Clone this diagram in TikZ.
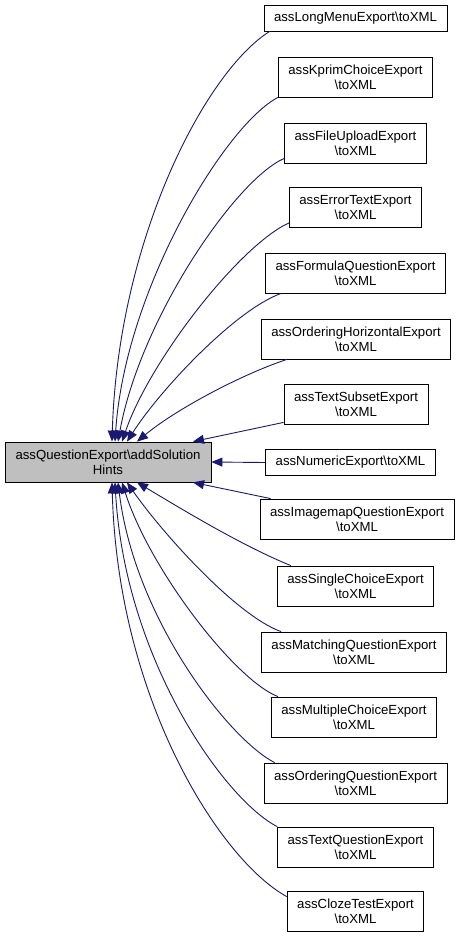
\documentclass[tikz,border=0pt]{standalone}
\usepackage{fontspec}
\setmainfont{Liberation Sans}
\usetikzlibrary{arrows.meta}
\definecolor{edgecol}{HTML}{191970}
\definecolor{maingray}{HTML}{BFBFBF}
\begin{document}
\begin{tikzpicture}[x=1pt,y=-1pt,
 box/.style={draw=black, fill=white, line width=0.8pt, font=\fontsize{13.2}{15}\selectfont, align=center, inner xsep=10pt, inner ysep=0pt},
 one/.style={box, minimum height=26pt},
 two/.style={box, minimum height=40pt},
 edge/.style={draw=edgecol, line width=0.9pt, -{Triangle[length=11pt,width=9pt]}}]
\useasboundingbox (0,0) rectangle (459,939);
\fill[white] (0,0) rectangle (459,939);

\node[two, fill=maingray, minimum width=206pt] (main) at (108,462) {assQuestionExport\textbackslash addSolution\\Hints};

\node[one] (n1) at (355.5,18) {assLongMenuExport\textbackslash toXML};
\node[two] (n2) at (355.5,77) {assKprimChoiceExport\\\textbackslash toXML};
\node[two] (n3) at (355.5,143) {assFileUploadExport\\\textbackslash toXML};
\node[two] (n4) at (355.5,207.5) {assErrorTextExport\\\textbackslash toXML};
\node[two] (n5) at (355.5,273) {assFormulaQuestionExport\\\textbackslash toXML};
\node[two] (n6) at (356,339) {assOrderingHorizontalExport\\\textbackslash toXML};
\node[two] (n7) at (356,404) {assTextSubsetExport\\\textbackslash toXML};
\node[one] (n8) at (350.5,462.5) {assNumericExport\textbackslash toXML};
\node[two] (n9) at (357,519) {assImagemapQuestionExport\\\textbackslash toXML};
\node[two] (n10) at (355.5,586) {assSingleChoiceExport\\\textbackslash toXML};
\node[two] (n11) at (354,652) {assMatchingQuestionExport\\\textbackslash toXML};
\node[two] (n12) at (354,717) {assMultipleChoiceExport\\\textbackslash toXML};
\node[two] (n13) at (355.5,783) {assOrderingQuestionExport\\\textbackslash toXML};
\node[two] (n14) at (355.5,847) {assTextQuestionExport\\\textbackslash toXML};
\node[two] (n15) at (355.5,911) {assClozeTestExport\\\textbackslash toXML};

\draw[edge] ([xshift=6pt]n1.south west) .. controls (205,72) and (118,240) .. ([xshift=4pt]main.north);
\draw[edge] (n2.south west) .. controls (225,125) and (125,290) .. ([xshift=7pt]main.north);
\draw[edge] ([yshift=5pt]n3.south west) .. controls (235,180) and (140,320) .. ([xshift=10pt]main.north);
\draw[edge] ([yshift=5pt]n4.south west) .. controls (240,245) and (150,360) .. ([xshift=14pt]main.north);
\draw[edge] ([xshift=16pt]n5.south west) .. controls (235,310) and (160,390) .. ([xshift=19pt]main.north);
\draw[edge] ([xshift=26pt]n6.south west) .. controls (240,375) and (175,410) .. ([xshift=29pt]main.north);
\draw[edge] ([yshift=2pt]n7.south west) -- ([xshift=85pt]main.north);
\draw[edge] (n8.west) -- (main.east);
\draw[edge] ([xshift=11pt]n9.north west) -- ([xshift=85pt]main.south);
\draw[edge] ([xshift=14pt]n10.north west) .. controls (240,545) and (175,505) .. ([xshift=29pt]main.south);
\draw[edge] ([xshift=20pt]n11.north west) .. controls (235,615) and (160,530) .. ([xshift=19pt]main.south);
\draw[edge] ([xshift=7pt]n12.north west) .. controls (235,680) and (150,570) .. ([xshift=14pt]main.south);
\draw[edge] ([xshift=11pt]n13.north west) .. controls (230,740) and (135,620) .. ([xshift=10pt]main.south);
\draw[edge] (n14.north west) .. controls (225,800) and (125,660) .. ([xshift=7pt]main.south);
\draw[edge] ([yshift=-6pt]n15.north west) .. controls (220,860) and (118,700) .. ([xshift=4pt]main.south);
\end{tikzpicture}
\end{document}
